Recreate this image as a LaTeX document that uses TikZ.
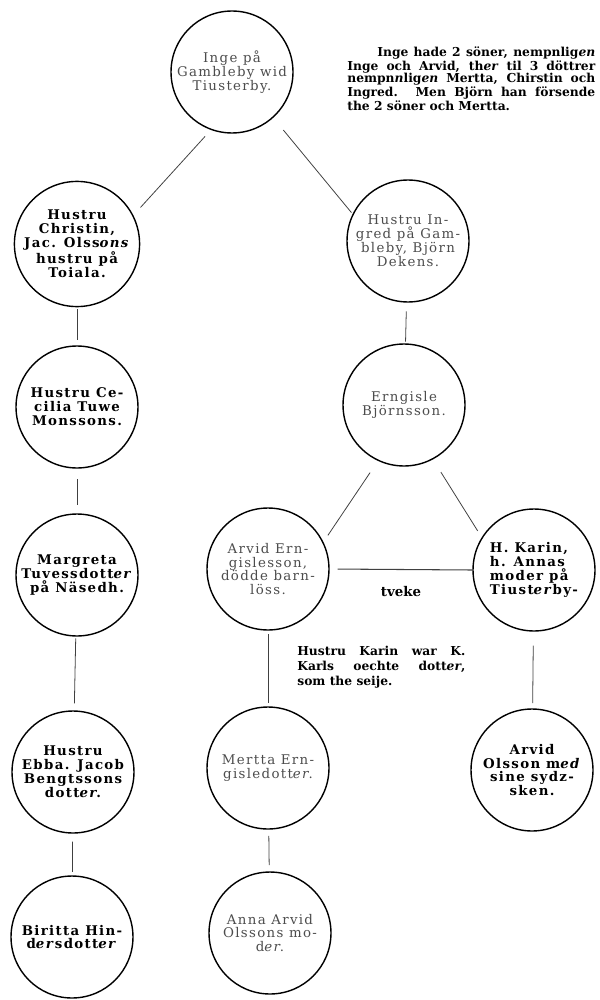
\documentclass[tikz,border=0pt]{standalone}
\usepackage{fontspec}
\newfontfamily\cerclefont{DejaVu Serif}[LetterSpace=10]
\newfontfamily\notefont{DejaVu Serif}

\begin{document}
\begin{tikzpicture}[x=0.02cm,y=-0.02cm,
    personne/.style={circle, draw, line width=0.8pt, minimum size=\TailleCercle,
        inner sep=0pt, align=center, font=\cerclefont\bfseries\fontsize{7.6}{7.9}\selectfont},
    personneclaire/.style={personne, text=black!70, font=\cerclefont\fontsize{7.6}{7.9}\selectfont},
    lien/.style={draw=black!75, line width=0.45pt, shorten <=2pt, shorten >=2pt},
    note/.style={inner sep=0pt, anchor=north west, font=\notefont\bfseries\fontsize{7}{6.9}\selectfont}]

\def \TailleCercle {2.44cm}
\useasboundingbox (0,0) rectangle (599,1000);

% colonne de gauche
\node[personneclaire] (inge) at (232,72) {Inge på\\Gambleby wid\\Tiusterby.};
\node[personne] (christin) at (77,244) {Hustru\\Christin,\\Jac. Olss\textit{ons}\\hustru på\\Toiala.};
\node[personne] (cecilia) at (77,407) {Hustru Ce-\\cilia Tuwe\\Monssons.};
\node[personne] (margreta) at (77,575) {Margreta\\Tuvessdott\textit{er}\\på Näsedh.};
\node[personne] (ebba) at (73,772) {Hustru\\Ebba. Jacob\\Bengtssons\\dott\textit{er}.};
\node[personne] (biritta) at (72,937) {Biritta Hin-\\d\textit{er}sdott\textit{er}};

% colonne de droite
\node[personneclaire] (ingred) at (408,241) {Hustru In-\\gred på Gam-\\bleby, Björn\\Dekens.};
\node[personneclaire] (erngisle) at (404,405) {Erngisle\\Björnsson.};
\node[personneclaire] (arvide) at (268,569) {Arvid Ern-\\gislesson,\\dödde barn-\\löss.};
\node[personne, align=left] (karin) at (534,570) {H. Karin,\\h. Annas\\moder på\\Tiust\textit{er}by-};
\node[personneclaire] (mertta) at (268,768) {Mertta Ern-\\gisledott\textit{er}.};
\node[personne] (arvido) at (532,770) {Arvid\\Olsson m\textit{ed}\\sine sydz-\\sken.};
\node[personneclaire] (anna) at (270,933) {Anna Arvid\\Olssons mo-\\d\textit{er}.};

% les liens
\draw[lien, shorten <=5pt, shorten >=6pt] (inge.250) -- (christin.27);
\draw[lien, shorten <=9pt, shorten >=1pt] (inge.312) -- (ingred.154);
\draw[lien, shorten <=1pt, shorten >=3pt] (christin) -- (cecilia);
\draw[lien, shorten <=6pt, shorten >=4.5pt] (cecilia) -- (margreta);
\draw[lien, shorten <=1pt, shorten >=4pt] (margreta) -- (ebba);
\draw[lien, shorten <=4.5pt, shorten >=2pt] (ebba) -- (biritta);
\draw[lien, shorten <=5pt, shorten >=1pt] (ingred) -- (erngisle);
\draw[lien, shorten <=8pt, shorten >=4.5pt] (erngisle.245) -- (arvide.26);
\draw[lien, shorten <=8.5pt, shorten >=4.3pt] (erngisle.298) -- (karin.148);
\draw[lien, line width=0.6pt, shorten <=4.5pt, shorten >=0pt] (arvide.east) -- (karin.west)
    node[midway, yshift=-0.44cm, font=\notefont\bfseries\fontsize{7.6}{8}\selectfont] (tveke) {tveke};
\draw[lien] (arvide) -- (mertta);
\draw[lien, shorten <=3.5pt, shorten >=3.5pt] (mertta) -- (anna);
\draw[lien, shorten <=8pt, shorten >=3pt] (karin) -- (arvido);

% les notes
\node[note, text width=4.96cm, align=justify] (notehaut) at (347,46) {\hspace*{0.6cm}Inge hade 2 söner, nempnlig\textit{en}\linebreak
    Inge och Arvid, th\textit{er} til 3 döttrer\linebreak
    nempn\textit{n}lig\textit{en} Mertta, Chirstin och\linebreak
    Ingred. Men Björn han försende\linebreak
    the 2 söner och Mertta.};
\node[note, text width=3.36cm, align=justify, font=\notefont\bfseries\fontsize{7}{8.5}\selectfont] (notebas) at (297,646)
    {Hustru Karin war K.\linebreak Karls oechte dott\textit{er},\linebreak som the seije.};
\end{tikzpicture}
\end{document}
